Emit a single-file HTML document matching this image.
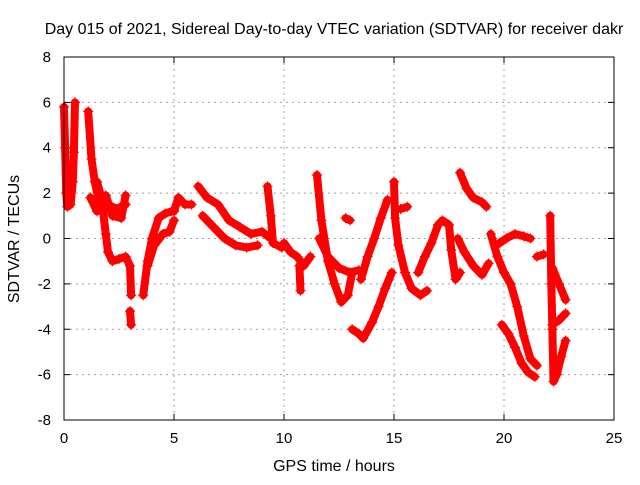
<!DOCTYPE html>
<html><head><meta charset="utf-8"><style>
body{margin:0;background:#fff;font-family:"Liberation Sans",sans-serif}
svg text{font-family:"Liberation Sans",sans-serif;font-size:15px;fill:#000}
svg text.big{font-size:16px}
</style></head><body>
<svg id="c" width="640" height="480">
<text class="big" x="334" y="34" text-anchor="middle">Day 015 of 2021, Sidereal Day-to-day VTEC variation (SDTVAR) for receiver dakr</text>
<text class="big" x="334" y="471" text-anchor="middle">GPS time / hours</text>
<text class="big" transform="translate(19,239) rotate(-90)" text-anchor="middle">SDTVAR / TECUs</text>
<g id="grid"></g><g id="ticks"></g><g id="marks"></g>
<rect x="64" y="57" width="550" height="363" fill="none" stroke="#000" stroke-width="1"/>
</svg>
<script>
const xTicks=[0,5,10,15,20,25];
const yTicks=[-8,-6,-4,-2,0,2,4,6,8];
const arcA=[[0,5.8],[0.05,4],[0.1,2],[0.15,1.4],[0.3,1.5],[0.4,2.5],[0.45,3.8],[0.5,6]];
const arcB=[[1.1,5.6],[1.25,3.5],[1.4,2.5],[1.6,1.6],[2,1.5],[2.4,1.3],[2.8,1.5]];
const arcB2=[[1.2,1.8],[1.5,1.2],[1.9,1.9],[2.2,1.0],[2.6,0.9],[2.8,1.9]];
const arcC=[[1.5,2.5],[1.7,1.8],[1.9,0.2],[2.0,-0.6],[2.2,-1],[2.5,-0.9],[2.8,-0.8],[3.0,-1.2],[3.05,-2.5]];
const arcD=[[3.0,-3.2],[3.05,-3.8]];
const arcE=[[3.6,-2.5],[3.8,-1],[4.0,0],[4.3,0.9],[4.6,1.1],[4.9,1.2]];
const arcF=[[3.8,-1.2],[4.1,-0.3],[4.5,0.2],[4.8,0.3],[5.0,0.8]];
const arcG=[[5.0,1.2],[5.2,1.8],[5.5,1.5],[5.8,1.5]];
const arcH=[[6.1,2.3],[6.5,1.8],[7,1.5],[7.5,0.8],[8,0.5],[8.5,0.2],[9,0.3],[9.4,0]];
const arcI=[[6.3,1],[6.8,0.5],[7.3,0],[7.8,-0.3],[8.3,-0.4],[8.8,-0.3]];
const arcJ=[[9.25,2.3],[9.4,1],[9.5,-0.2],[9.9,-0.4]];
const arcK=[[10,-0.2],[10.3,-0.6],[10.6,-0.8],[10.9,-1.2],[11.2,-0.8]];
const arcL=[[10.7,-1.2],[10.75,-2.3]];
const arcM=[[11.5,2.8],[11.7,0.8],[12,-1],[12.3,-2],[12.6,-2.8],[12.9,-2.5],[13.1,-1.5]];
const arcN=[[11.6,0],[12,-0.8],[12.5,-1.3],[13,-1.5],[13.4,-1.4]];
const arcO=[[12.8,0.9],[13,0.8]];
const arcP=[[13.1,-4],[13.4,-4.2],[13.6,-4.4],[14,-3.7],[14.3,-3],[14.6,-2.2],[14.9,-1.5]];
const arcQ=[[13.5,-1.8],[13.8,-0.8],[14.1,0],[14.4,0.9],[14.7,1.7]];
const arcR=[[15,2.5],[15.05,0.9],[15.2,-0.3],[15.5,-1.5],[15.8,-2.2],[16.2,-2.5],[16.5,-2.3]];
const arcS=[[15.3,1.3],[15.6,1.4]];
const arcT=[[16.1,-1.5],[16.4,-0.8],[16.7,-0.2],[17,0.6],[17.2,0.8],[17.5,0.6],[17.6,-0.5],[17.8,-1.8],[18,-1.5]];
const arcU=[[18,2.9],[18.3,2.2],[18.6,1.8],[19,1.6],[19.2,1.4]];
const arcV=[[17.9,0],[18.2,-0.6],[18.6,-1.2],[19,-1.6],[19.3,-1.1]];
const arcW=[[19.4,0.2],[19.7,-0.8],[20,-1.5],[20.3,-2],[20.6,-3],[20.9,-4.3],[21.2,-5.3],[21.5,-5.6]];
const arcX=[[19.9,-3.8],[20.2,-4.2],[20.5,-4.8],[20.8,-5.5],[21.1,-5.9],[21.4,-6.1]];
const arcY=[[19.8,-0.2],[20.1,0],[20.5,0.2],[20.9,0.1],[21.2,0]];
const arcZ=[[21.5,-0.8],[21.8,-0.7]];
const arc1=[[22.1,1],[22.15,-2],[22.2,-4],[22.25,-6.3],[22.4,-6],[22.6,-5.2],[22.8,-4.5]];
const arc2=[[22.2,-3.8],[22.5,-3.6],[22.8,-3.3]];
const arc3=[[22.2,-1.3],[22.5,-2],[22.8,-2.7]];
const arcs=[arcA,arcB,arcB2,arcC,arcD,arcE,arcF,arcG,arcH,arcI,arcJ,arcK,arcL,arcM,arcN,arcO,arcP,arcQ,arcR,arcS,arcT,arcU,arcV,arcW,arcX,arcY,arcZ,arc1,arc2,arc3];
const NS="http://www.w3.org/2000/svg";
const X=t=>64+t*22, Y=v=>238.5-v*22.69;
const grid=document.getElementById('grid'),ticks=document.getElementById('ticks'),marks=document.getElementById('marks');
function mk(tag,at,par){const e=document.createElementNS(NS,tag);for(const k in at)e.setAttribute(k,at[k]);par.appendChild(e);return e;}
xTicks.forEach(t=>{
 if(t>0&&t<25){const g=mk('line',{x1:X(t),x2:X(t),y1:57,y2:420,stroke:'#a0a0a0','stroke-dasharray':'2,4'},grid);
 
 }
 const tk=mk('path',{d:`M${X(t)},420v-6M${X(t)},57v6`,stroke:'#000'},ticks);
 
 
 const tx=mk('text',{x:X(t),y:443,'text-anchor':'middle'},ticks);tx.textContent=t;
 
 
});
yTicks.forEach(v=>{
 if(v>-8&&v<8){const g=mk('line',{x1:64,x2:614,y1:Y(v),y2:Y(v),stroke:'#a0a0a0','stroke-dasharray':'2,4'},grid);
 
 }
 const tk=mk('path',{d:`M64,${Y(v)}h6M614,${Y(v)}h-6`,stroke:'#000'},ticks);
 
 
 const tx=mk('text',{x:51,y:Y(v)+5,'text-anchor':'end'},ticks);tx.textContent=v;
 
 
});
arcs.forEach(a=>{
 const pl=mk('polyline',{points:a.map(p=>X(p[0])+','+Y(p[1])).join(' '),fill:'none',stroke:'#f00','stroke-width':8,'stroke-linejoin':'round','stroke-linecap':'round'},marks);
 
 
 a.forEach(p=>{
  const c=mk('path',{d:`M${X(p[0])-5},${Y(p[1])}h10M${X(p[0])},${Y(p[1])-5}v10`,stroke:'#f00','stroke-width':1.2},marks);
  
  
 });
});
</script>
</body></html>
